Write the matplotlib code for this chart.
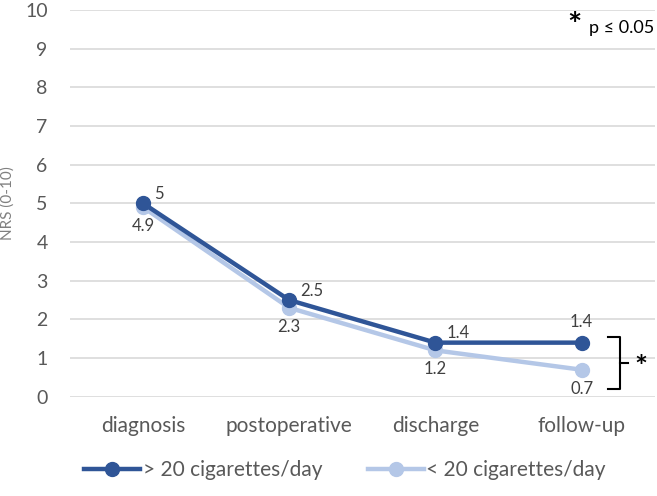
import matplotlib.pyplot as plt
from matplotlib.lines import Line2D

plt.rcParams['font.family'] = ['Lato', 'DejaVu Sans']

categories = ["diagnosis", "postoperative", "discharge", "follow-up"]
heavy = [5, 2.5, 1.4, 1.4]
light = [4.9, 2.3, 1.2, 0.7]
heavy_label = "> 20 cigarettes/day"
light_label = "< 20 cigarettes/day"

dark_c = "#2F5597"
light_c = "#B4C7E7"
grey = "#595959"

fig = plt.figure(figsize=(6.57, 4.96), dpi=100)
ax = fig.add_axes([0.1065, 0.2, 0.89, 0.78])

x = list(range(len(categories)))
ax.plot(x, light, color=light_c, lw=3.2, marker='o', ms=10, label=light_label, zorder=3)
ax.plot(x, heavy, color=dark_c, lw=3.2, marker='o', ms=10, label=heavy_label, zorder=4)

ax.set_xlim(-0.5, len(categories) - 0.5)
ax.set_ylim(0, 10)
ax.set_yticks(range(0, 11))
ax.set_xticks(x)
ax.set_xticklabels(categories)
ax.tick_params(axis='both', length=0, colors=grey)
ax.tick_params(axis='y', pad=16, labelsize=14)
ax.tick_params(axis='x', pad=14, labelsize=15)
ax.grid(axis='y', color='#D9D9D9', lw=1.2)
ax.set_axisbelow(True)
for s in ax.spines.values():
    s.set_visible(False)
ax.set_ylabel("NRS (0-10)", fontsize=11, color='#808080')
ax.yaxis.set_label_coords(-0.094, 0.5)

# data labels
for i, v in enumerate(heavy):
    if i == len(heavy) - 1:
        ax.annotate(f"{v:g}", (i, v), xytext=(0, 9), textcoords='offset points',
                    ha='center', va='bottom', fontsize=12, color='#404040')
    else:
        ax.annotate(f"{v:g}", (i, v), xytext=(8, 1), textcoords='offset points',
                    ha='left', va='bottom', fontsize=12, color='#404040')
for i, v in enumerate(light):
    ax.annotate(f"{v:g}", (i, v), xytext=(0, -8), textcoords='offset points',
                ha='center', va='top', fontsize=12, color='#404040')

# significance bracket
bx = len(categories) - 1 + 0.26
ax.plot([bx - 0.08, bx, bx, bx - 0.08], [heavy[-1] + 0.15, heavy[-1] + 0.15, light[-1] - 0.5, light[-1] - 0.5],
        color='black', lw=1.5, clip_on=False)
ax.plot([bx, bx + 0.06], [(heavy[-1] + light[-1]) / 2 - 0.17] * 2, color='black', lw=1.5, clip_on=False)
ax.text(bx + 0.1, (heavy[-1] + light[-1]) / 2 - 0.3, "*", fontsize=22, fontweight='bold',
        ha='left', va='center', color='black')

ax.text(0.862, 0.995, "*", transform=ax.transAxes, fontsize=24, fontweight='bold', ha='center', va='top')
ax.text(1.0, 0.975, "p ≤ 0.05", transform=ax.transAxes, fontsize=13, ha='right', va='top', color='black')

handles = [Line2D([], [], color=dark_c, lw=3.2, marker='o', ms=10),
           Line2D([], [], color=light_c, lw=3.2, marker='o', ms=10)]
fig.legend(handles, [heavy_label, light_label], loc='center', bbox_to_anchor=(0.525, 0.052),
           ncol=2, frameon=False, fontsize=15, labelcolor=grey, handlelength=2.7,
           handletextpad=0.1, columnspacing=2.2)

fig.savefig("out.png", dpi=100)
